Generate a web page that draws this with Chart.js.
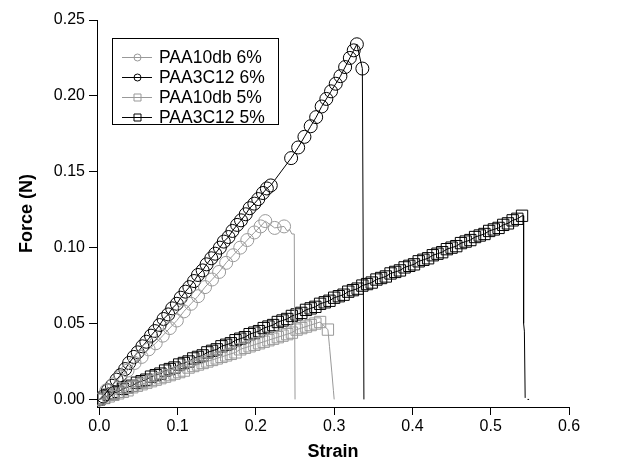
<!DOCTYPE html>
<html>
<head>
<meta charset="utf-8">
<script src="https://cdn.jsdelivr.net/npm/chart.js@4.4.0/dist/chart.umd.min.js"></script>
<style>
  body { margin: 0; background: #fff; }
  canvas { display: block; }
</style>
</head>
<body>
<canvas id="graph" width="642" height="468"></canvas>
<script>
// force-strain curves, strain is unitless, force in N
const seriesNames = ['PAA10db 6%', 'PAA3C12 6%', 'PAA10db 5%', 'PAA3C12 5%'];

// PAA10db 6% (grey circles)
const strain10db6 = [0.000, 0.009, 0.018, 0.027, 0.036, 0.045, 0.054, 0.063, 0.072, 0.081, 0.090, 0.099, 0.108, 0.117, 0.126, 0.135, 0.144, 0.153, 0.162, 0.171, 0.180, 0.189, 0.198, 0.206, 0.212, 0.224, 0.236];
const force10db6  = [0.000, 0.006, 0.010, 0.015, 0.019, 0.024, 0.028, 0.033, 0.037, 0.042, 0.047, 0.052, 0.058, 0.063, 0.068, 0.074, 0.079, 0.084, 0.090, 0.095, 0.100, 0.105, 0.110, 0.114, 0.1175, 0.113, 0.114];
// trace after the last marker
const breakStrain10db6 = [0.240, 0.243, 0.246, 0.249, 0.250];
const breakForce10db6  = [0.111, 0.112, 0.109, 0.109, 0.000];

// PAA3C12 6% (black circles)
const strain3c6 = [0.000, 0.005, 0.011, 0.016, 0.022, 0.027, 0.033, 0.038, 0.044, 0.049, 0.055, 0.060, 0.066, 0.071, 0.077, 0.082, 0.088, 0.093, 0.099, 0.104,
                   0.110, 0.115, 0.121, 0.126, 0.132, 0.137, 0.143, 0.148, 0.154, 0.159, 0.165, 0.170, 0.176, 0.181, 0.187, 0.192, 0.198, 0.203, 0.209, 0.214, 0.219,
                   0.245, 0.254, 0.262, 0.270, 0.277, 0.284, 0.290, 0.296, 0.302, 0.308, 0.314, 0.320, 0.325, 0.329, 0.336];
const force3c6  = [0.000, 0.002, 0.006, 0.009, 0.013, 0.016, 0.020, 0.024, 0.028, 0.031, 0.035, 0.038, 0.042, 0.045, 0.049, 0.053, 0.056, 0.060, 0.063, 0.067,
                   0.071, 0.074, 0.078, 0.082, 0.085, 0.089, 0.093, 0.096, 0.100, 0.104, 0.107, 0.111, 0.115, 0.118, 0.122, 0.126, 0.129, 0.132, 0.136, 0.139, 0.141,
                   0.159, 0.166, 0.173, 0.180, 0.186, 0.193, 0.198, 0.203, 0.208, 0.213, 0.219, 0.225, 0.230, 0.234, 0.218];
const breakStrain3c6 = [0.338];
const breakForce3c6  = [0.000];

// PAA10db 5% (grey squares)
const strain10db5 = [0.000, 0.006, 0.012, 0.018, 0.024, 0.030, 0.036, 0.042, 0.048, 0.054, 0.060, 0.066, 0.072, 0.078, 0.084, 0.090, 0.096, 0.102, 0.108, 0.114,
                     0.120, 0.126, 0.132, 0.138, 0.144, 0.150, 0.156, 0.162, 0.168, 0.174, 0.180, 0.186, 0.192, 0.198, 0.204, 0.210, 0.216, 0.222, 0.228, 0.234,
                     0.240, 0.246, 0.252, 0.258, 0.264, 0.270, 0.276, 0.282, 0.292];
const force10db5  = [0.000, 0.001, 0.002, 0.003, 0.004, 0.005, 0.006, 0.008, 0.009, 0.010, 0.011, 0.012, 0.013, 0.014, 0.015, 0.016, 0.017, 0.018, 0.019, 0.021,
                     0.022, 0.023, 0.024, 0.025, 0.026, 0.027, 0.028, 0.029, 0.030, 0.031, 0.033, 0.034, 0.035, 0.036, 0.037, 0.038, 0.039, 0.040, 0.041, 0.042,
                     0.043, 0.044, 0.046, 0.047, 0.048, 0.049, 0.050, 0.051, 0.046];
const breakStrain10db5 = [0.294, 0.297, 0.299, 0.300];
const breakForce10db5  = [0.035, 0.018, 0.006, 0.000];

// PAA3C12 5% (black squares)
const strain3c5 = [0.000, 0.006, 0.012, 0.018, 0.024, 0.030, 0.036, 0.042, 0.048, 0.054, 0.060, 0.066, 0.072, 0.078, 0.084, 0.090, 0.096, 0.102, 0.108, 0.114,
                   0.120, 0.126, 0.132, 0.138, 0.144, 0.150, 0.156, 0.162, 0.168, 0.174, 0.180, 0.186, 0.192, 0.198, 0.204, 0.210, 0.216, 0.222, 0.228, 0.234,
                   0.240, 0.246, 0.252, 0.258, 0.264, 0.270, 0.276, 0.282, 0.288, 0.294, 0.300, 0.306, 0.312, 0.318, 0.324, 0.330, 0.336, 0.342, 0.348, 0.354,
                   0.360, 0.366, 0.372, 0.378, 0.384, 0.390, 0.396, 0.402, 0.408, 0.414, 0.420, 0.426, 0.432, 0.438, 0.444, 0.450, 0.456, 0.462, 0.468, 0.474,
                   0.480, 0.486, 0.492, 0.498, 0.504, 0.510, 0.516, 0.522, 0.528, 0.534, 0.540];
const force3c5  = [0.000, 0.001, 0.003, 0.004, 0.005, 0.007, 0.008, 0.009, 0.011, 0.012, 0.013, 0.015, 0.016, 0.017, 0.019, 0.020, 0.021, 0.023, 0.024, 0.025,
                   0.027, 0.028, 0.029, 0.031, 0.032, 0.033, 0.035, 0.036, 0.037, 0.039, 0.040, 0.041, 0.043, 0.044, 0.045, 0.047, 0.048, 0.049, 0.051, 0.052,
                   0.053, 0.055, 0.056, 0.057, 0.059, 0.060, 0.061, 0.063, 0.064, 0.065, 0.067, 0.068, 0.069, 0.071, 0.072, 0.073, 0.075, 0.076, 0.077, 0.079,
                   0.080, 0.081, 0.083, 0.084, 0.085, 0.087, 0.088, 0.089, 0.091, 0.092, 0.093, 0.095, 0.096, 0.097, 0.099, 0.100, 0.101, 0.103, 0.104, 0.105,
                   0.107, 0.108, 0.109, 0.111, 0.112, 0.113, 0.115, 0.116, 0.118, 0.119, 0.121];
const breakStrain3c5 = [0.542, 0.542, 0.543, 0.544, null, 0.547, 0.549];
const breakForce3c5  = [0.121, 0.050, 0.045, 0.001, null, 0.000, 0.000];

const strainTicks = [0, 0.1, 0.2, 0.3, 0.4, 0.5, 0.6];
const forceTicks  = [0, 0.05, 0.10, 0.15, 0.20, 0.25];

const GREY = '#999999';
const BLACK = '#000000';
const FONT = "'Liberation Sans', Arial, sans-serif";

function toPoints(xs, ys, bx, by) {
    let pts = xs.map((x, i) => ({ x: x, y: ys[i] }));
    bx.forEach((x, i) => pts.push(x === null ? { x: null, y: null } : { x: x, y: by[i] }));
    return pts;
}

function makeSet(label, xs, ys, bx, by, color, style, radius) {
    const n = xs.length;
    return {
        label: label,
        data: toPoints(xs, ys, bx, by),
        borderColor: color,
        borderWidth: 1,
        pointStyle: style,
        pointRadius: ctx => ctx.dataIndex < n ? radius : 0,
        pointHoverRadius: 0,
        pointBorderColor: color,
        pointBorderWidth: 1,
        pointBackgroundColor: 'rgba(0,0,0,0)',
        showLine: true,
        spanGaps: false,
        tension: 0,
    };
}

const datasets = [
    makeSet(seriesNames[0], strain10db6, force10db6, breakStrain10db6, breakForce10db6, GREY, 'circle', 6.5),
    makeSet(seriesNames[1], strain3c6, force3c6, breakStrain3c6, breakForce3c6, BLACK, 'circle', 6.5),
    makeSet(seriesNames[2], strain10db5, force10db5, breakStrain10db5, breakForce10db5, GREY, 'rect', 8),
    makeSet(seriesNames[3], strain3c5, force3c5, breakStrain3c5, breakForce3c5, BLACK, 'rect', 8),
];

// boxed legend in the upper left of the plot
const boxLegend = {
    id: 'boxLegend',
    afterDraw(chart) {
        const ctx = chart.ctx;
        const left = 112, top = 38, w = 166, h = 86;
        ctx.save();
        ctx.fillStyle = '#fff';
        ctx.fillRect(left, top, w, h);
        ctx.strokeStyle = '#000';
        ctx.lineWidth = 1;
        ctx.strokeRect(left + 0.5, top + 0.5, w, h);
        chart.data.datasets.forEach((ds, i) => {
            const y = 57 + i * 20;
            ctx.strokeStyle = ds.borderColor;
            ctx.beginPath();
            ctx.moveTo(122, y + 0.5);
            ctx.lineTo(152, y + 0.5);
            ctx.stroke();
            ctx.beginPath();
            if (ds.pointStyle === 'circle') {
                ctx.arc(137.5, y + 0.5, 3.5, 0, Math.PI * 2);
            } else {
                ctx.rect(134, y - 3, 7, 7);
            }
            ctx.stroke();
            ctx.fillStyle = '#000';
            ctx.font = '17.5px ' + FONT;
            ctx.textBaseline = 'middle';
            ctx.fillText(ds.label, 159, y + 1);
        });
        ctx.restore();
    }
};

const config = {
    type: 'scatter',
    data: { datasets: datasets },
    options: {
        responsive: false,
        animation: false,
        devicePixelRatio: 1,
        layout: { padding: { top: 20, right: 73, left: 0, bottom: 0 } },
        plugins: {
            legend: { display: false },
            tooltip: { enabled: false },
        },
        scales: {
            x: {
                type: 'linear',
                min: -0.003,
                max: 0.6,
                afterBuildTicks: s => { s.ticks = strainTicks.map(v => ({ value: v })); },
                afterFit: s => { s.height = 61; },
                ticks: {
                    callback: v => v.toFixed(1),
                    color: '#000',
                    font: { family: FONT, size: 16 },
                    padding: 2,
                    maxRotation: 0,
                    autoSkip: false,
                },
                grid: { drawOnChartArea: false, tickLength: 8, color: '#000' },
                border: { color: '#000', width: 1 },
                title: {
                    display: true,
                    text: 'Strain',
                    color: '#000',
                    font: { family: FONT, size: 18, weight: 'bold' },
                    padding: { top: 0, bottom: 5 },
                },
            },
            y: {
                type: 'linear',
                min: -0.005,
                max: 0.25,
                afterBuildTicks: s => { s.ticks = forceTicks.map(v => ({ value: v })); },
                afterFit: s => { s.width = 97; },
                ticks: {
                    callback: v => v.toFixed(2),
                    color: '#000',
                    font: { family: FONT, size: 16 },
                    padding: 4,
                    autoSkip: false,
                },
                grid: { drawOnChartArea: false, tickLength: 8, color: '#000' },
                border: { color: '#000', width: 1 },
                title: {
                    display: true,
                    text: 'Force (N)',
                    color: '#000',
                    font: { family: FONT, size: 18, weight: 'bold' },
                    padding: { top: 16, bottom: 0 },
                },
            },
        },
    },
    plugins: [boxLegend],
};

new Chart(document.getElementById('graph'), config);
</script>
</body>
</html>
